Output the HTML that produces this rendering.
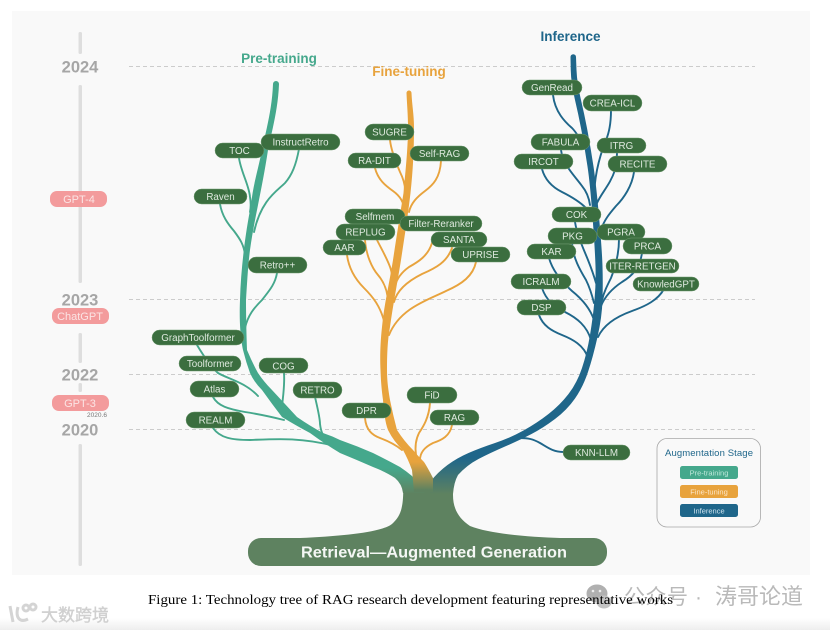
<!DOCTYPE html>
<html><head><meta charset="utf-8"><style>
html,body{margin:0;padding:0;background:#fff;width:830px;height:630px;overflow:hidden}
svg{display:block}
text{font-family:"Liberation Sans","Noto Sans CJK SC",sans-serif}
.p rect{fill:#3b6e3f;stroke:#6f9a70;stroke-width:.5}
.p text{fill:#dfeadf;font-size:9.8px;text-anchor:middle}
.c path{fill:none;stroke-width:1.9;stroke-linecap:round}
.yr{font-size:16.5px;font-weight:bold;fill:#a6a6a6;text-anchor:middle}
.pk{fill:#f39b9c}
.pt{fill:#fbe4e4;font-size:11px;text-anchor:middle}
.d{stroke:#bdbdbd;stroke-width:.8;stroke-dasharray:4 3}
.tl{fill:#dedede}
</style></head><body>
<svg width="830" height="630" viewBox="0 0 830 630" xmlns="http://www.w3.org/2000/svg">
<defs>
<linearGradient id="bot" x1="0" y1="0" x2="0" y2="1"><stop offset="0" stop-color="#fff"/><stop offset="1" stop-color="#eeeeee"/></linearGradient>
<linearGradient id="g1" gradientUnits="userSpaceOnUse" x1="0" y1="468" x2="0" y2="494"><stop offset="0" stop-color="#45a88c"/><stop offset="1" stop-color="#5e8260"/></linearGradient>
<linearGradient id="g2" gradientUnits="userSpaceOnUse" x1="0" y1="462" x2="0" y2="490"><stop offset="0" stop-color="#e8a33d"/><stop offset="1" stop-color="#5e8260"/></linearGradient>
<linearGradient id="g3" gradientUnits="userSpaceOnUse" x1="0" y1="458" x2="0" y2="494"><stop offset="0" stop-color="#1f668a"/><stop offset="1" stop-color="#5e8260"/></linearGradient>
</defs>
<rect width="830" height="630" fill="#fff"/>
<rect y="618" width="830" height="12" fill="url(#bot)"/>
<rect x="12" y="11" width="798" height="564" fill="#f9f9f9"/>

<!-- timeline -->
<rect class="tl" x="78.500" y="32" width="3.500" height="22" rx="1.500"/>
<rect class="tl" x="78.500" y="85" width="3.500" height="198" rx="1.500"/>
<rect class="tl" x="78.500" y="333" width="3.500" height="30" rx="1.500"/>
<rect class="tl" x="78.500" y="383" width="3.500" height="9" rx="1.500"/>
<rect class="tl" x="78.500" y="444" width="3.500" height="122" rx="1.500"/>
<text class="yr" x="80" y="72.500">2024</text>
<text class="yr" x="80" y="305.500">2023</text>
<text class="yr" x="80" y="380.500">2022</text>
<text class="yr" x="80" y="435.500">2020</text>
<rect class="pk" x="50" y="191" width="57" height="16" rx="7"/><text class="pt" x="79" y="203">GPT-4</text>
<rect class="pk" x="52" y="308" width="57" height="16" rx="7"/><text class="pt" x="80" y="320">ChatGPT</text>
<rect class="pk" x="52" y="395" width="57" height="16" rx="7"/><text class="pt" x="80" y="407">GPT-3</text>
<text x="97" y="417" font-size="6.500" fill="#777" text-anchor="middle">2020.6</text>

<!-- dashed -->
<line class="d" x1="129" y1="66.500" x2="755" y2="66.500"/>
<line class="d" x1="129" y1="299.500" x2="755" y2="299.500"/>
<line class="d" x1="129" y1="374.500" x2="755" y2="374.500"/>
<line class="d" x1="129" y1="429.500" x2="755" y2="429.500"/>

<!-- titles -->
<text x="279" y="63" font-size="13.500" font-weight="bold" fill="#45a88c" text-anchor="middle">Pre-training</text>
<text x="409" y="76" font-size="13.500" font-weight="bold" fill="#e8a33d" text-anchor="middle">Fine-tuning</text>
<text x="570.500" y="41" font-size="13.500" font-weight="bold" fill="#1f668a" text-anchor="middle">Inference</text>

<!-- base -->
<path d="M403,480 C404,505 402,515 392,524 C382,532 345,536 300,538 L560,538 C530,537 490,534 470,526 C458,518 453,508 453,495 L453,480Z" fill="#5e8260"/>
<rect x="248" y="538" width="359" height="28" rx="13" fill="#5e8260"/>
<text x="434" y="557.500" font-size="15.500" font-weight="bold" fill="#f4f7f4" text-anchor="middle" textLength="266" lengthAdjust="spacingAndGlyphs">Retrieval—Augmented Generation</text>

<!-- connectors -->
<g class="c">
<path stroke="#45a88c" d="M239,158 C241,172 249,185 250,197 C251,203 251,207 250,212"/>
<path stroke="#45a88c" d="M299,149 C296,165 292,175 285,183 C277,191 261,200 254,232"/>
<path stroke="#45a88c" d="M220,204 C222,216 228,224 234,231 C240,239 244,245 245,255"/>
<path stroke="#45a88c" d="M277,273 C275,285 268,292 262,300 C254,308 248,315 245,328"/>
<path stroke="#45a88c" d="M197,345 C203,355 210,366 218,373 C228,379 245,382 258,396"/>
<path stroke="#45a88c" d="M213,397 C218,406 228,409 245,412 C258,414 268,416 284,420"/>
<path stroke="#45a88c" d="M284,373 C285,388 282,402 282,408 C283,414 284,416 287,418"/>
<path stroke="#45a88c" d="M315,397 C318,410 320,418 320,424 C321,432 323,437 328,440"/>
<path stroke="#45a88c" d="M213,428 C220,438 232,440 250,440 C275,439 300,437 335,446"/>
</g>
<g class="c">
<path stroke="#e8a33d" d="M390,140 C391,150 397,165 400,172 C403,178 405,185 405,190"/>
<path stroke="#e8a33d" d="M375,168 C378,180 386,186 393,191 C400,196 404,202 404,210"/>
<path stroke="#e8a33d" d="M441,161 C440,178 433,185 425,191 C417,197 411,203 409,212"/>
<path stroke="#e8a33d" d="M365,240 C366,255 372,268 378,275 C384,282 388,292 388,303"/>
<path stroke="#e8a33d" d="M377,240 C382,250 389,262 391,270 C393,277 393,285 393,292"/>
<path stroke="#e8a33d" d="M347,255 C349,270 356,280 364,288 C372,296 381,306 385,325"/>
<path stroke="#e8a33d" d="M432,243 C428,256 418,262 409,267 C402,272 397,278 395,286"/>
<path stroke="#e8a33d" d="M452,248 C447,262 436,268 422,274 C408,281 397,290 394,302"/>
<path stroke="#e8a33d" d="M476,262 C473,276 462,284 446,291 C428,300 400,308 389,335"/>
<path stroke="#e8a33d" d="M365,418 C366,430 372,435 380,438 C388,441 396,445 402,450"/>
<path stroke="#e8a33d" d="M430,403 C429,418 423,427 419,433 C415,441 415,448 416,455"/>
<path stroke="#e8a33d" d="M452,425 C450,436 442,440 433,443 C425,447 420,452 420,460"/>
</g>
<g class="c">
<path stroke="#1f668a" d="M553,95 C555,112 565,122 572,128 C576,132 578,136 582,142"/>
<path stroke="#1f668a" d="M611,110 C611,125 609,133 606,140 C600,155 594,175 594,200"/>
<path stroke="#1f668a" d="M617,153 C617,158 616,162 615,170 C610,185 602,192 597,203"/>
<path stroke="#1f668a" d="M634,172 C632,186 624,198 616,206 C610,213 604,220 601,230"/>
<path stroke="#1f668a" d="M561,150 C563,165 574,175 582,186 C587,192 589,198 590,205"/>
<path stroke="#1f668a" d="M542,169 C545,180 552,187 562,192 C572,197 580,202 586,208"/>
<path stroke="#1f668a" d="M575,222 C577,235 584,250 588,260 C592,270 594,276 596,283"/>
<path stroke="#1f668a" d="M572,243 C573,258 580,270 586,280 C590,288 592,295 594,303"/>
<path stroke="#1f668a" d="M549,258 C553,272 563,283 572,291 C582,299 590,308 594,320"/>
<path stroke="#1f668a" d="M542,288 C546,300 555,308 565,312 C577,318 587,326 591,340"/>
<path stroke="#1f668a" d="M539,315 C543,326 552,331 562,335 C572,339 584,345 588,358"/>
<path stroke="#1f668a" d="M619,239 C619,255 615,268 611,278 C607,286 604,292 602,300"/>
<path stroke="#1f668a" d="M642,253 C640,268 632,276 622,282 C613,288 605,296 601,306"/>
<path stroke="#1f668a" d="M664,289 C658,300 646,306 632,311 C618,316 604,324 598,337"/>
<path stroke="#1f668a" d="M563,452 C553,452 547,447 540,443 C533,439 528,438 520,438"/>
</g>

<!-- trunks -->
<path fill="url(#g1)" d="M273,84 C272,110 266,130 262,150 C258,170 253,185 251,205 C246,230 241,265 240,300 C239,325 241,340 243,350 Q246,362 250,373 Q254,382 262,390 Q272,404 282,417 Q295,425 310,433 Q325,444 340,453 Q357,460 373,467 Q386,472 395,478 Q402,484 403,493 L425,493 L412,476 Q406,471 400,467 Q387,460 373,453 Q357,446 340,440 Q332,436 323,433 Q310,426 297,417 Q285,404 272,390 Q264,382 258,373 Q252,362 247,350 C246.500,335 246,318 246,300 C247,285 248,265 250,250 C252,235 255,220 258,205 C261,190 265,170 268,150 C272,130 278,110 279,84 A3,3 0 0 0 273,84Z"/>
<path fill="url(#g3)" d="M570.500,57 L570.750,70 Q571,83 575,100 Q579,117 582,133.500 Q585,150 587.500,166.500 Q590,183 592.500,216.500 Q595,250 595.500,266.500 Q596,283 594.500,300 Q593,317 590,335 Q587,353 582,368 Q577,383 568.500,394 Q560,405 548.500,414 Q537,423 523.500,430.500 Q510,438 495,443 Q480,448 468.500,453 Q457,458 447.500,465 Q438,472 430,482 L430,494 L453,494 Q454,482 458,475 Q467,465 478.500,459 Q490,453 505,446.500 Q520,440 531.500,434 Q543,428 555,419 Q567,410 575,398.500 Q583,387 588,372 Q593,357 597.500,337 Q602,317 602.500,300 Q603,283 602.500,266.500 Q602,250 599,216.500 Q596,183 593.500,166.500 Q591,150 588,133.500 Q585,117 581,100 Q577,83 576.500,70 L576,57 A2.750,2.750 0 0 0 570.500,57Z"/>
<path fill="url(#g2)" d="M406.500,93 C407,105 408,115 408,127 C408,150 405,175 403.500,193 C400,215 396,240 393,260 C389,285 384,305 382,327 C380,345 380,360 380.500,370 C381,385 382,392 383,400 C384,412 385,422 388,430 Q394,442 403,450 Q408,459 412,470 L414,492 L433,492 L433,478 C430,472 426,465 424,462 Q418,456 413,450 Q404,441 397,430 Q393,415 390,400 C388,388 387,380 387,370 C387,355 387.500,340 390,327 C393,305 397,285 401,260 C404,240 408,215 410.500,193 C413,170 414,150 414,127 C414,115 412,105 411.500,93 A2.500,2.500 0 0 0 406.500,93Z"/>

<!-- pills -->
<g class="p">
<rect x="215" y="143" width="49" height="15" rx="7.500"/><text x="239.500" y="154">TOC</text>
<rect x="261" y="134" width="79" height="16" rx="8"/><text x="300.500" y="145.500">InstructRetro</text>
<rect x="194" y="189" width="53" height="15" rx="7.500"/><text x="220.500" y="200">Raven</text>
<rect x="248" y="257" width="59" height="16" rx="8"/><text x="277.500" y="268.500">Retro++</text>
<rect x="152" y="330" width="92" height="15" rx="7.500"/><text x="198" y="341">GraphToolformer</text>
<rect x="179" y="356" width="62" height="15" rx="7.500"/><text x="210" y="367">Toolformer</text>
<rect x="259" y="358" width="49" height="15" rx="7.500"/><text x="283.500" y="369.500">COG</text>
<rect x="190" y="381" width="49" height="16" rx="8"/><text x="214.500" y="392.500">Atlas</text>
<rect x="293" y="382" width="49" height="16" rx="8"/><text x="317.500" y="393.500">RETRO</text>
<rect x="186" y="412" width="59" height="16" rx="8"/><text x="215.500" y="423.500">REALM</text>

<rect x="365" y="124" width="49" height="16" rx="8"/><text x="389.500" y="135.500">SUGRE</text>
<rect x="348" y="153" width="53" height="15" rx="7.500"/><text x="374.500" y="164">RA-DIT</text>
<rect x="410" y="146" width="59" height="15" rx="7.500"/><text x="439.500" y="157">Self-RAG</text>
<rect x="345" y="209" width="60" height="15" rx="7.500"/><text x="375" y="220">Selfmem</text>
<rect x="336" y="224" width="59" height="16" rx="8"/><text x="365.500" y="235.500">REPLUG</text>
<rect x="400" y="216" width="82" height="15" rx="7.500"/><text x="441" y="227">Filter-Reranker</text>
<rect x="431" y="232" width="56" height="15" rx="7.500"/><text x="459" y="243">SANTA</text>
<rect x="323" y="240" width="43" height="15" rx="7.500"/><text x="344.500" y="251">AAR</text>
<rect x="451" y="247" width="59" height="15" rx="7.500"/><text x="480.500" y="258">UPRISE</text>
<rect x="342" y="403" width="49" height="15" rx="7.500"/><text x="366.500" y="414">DPR</text>
<rect x="407" y="387" width="50" height="16" rx="8"/><text x="432" y="398.500">FiD</text>
<rect x="430" y="410" width="49" height="15" rx="7.500"/><text x="454.500" y="421">RAG</text>

<rect x="522" y="80" width="60" height="15" rx="7.500"/><text x="552" y="91">GenRead</text>
<rect x="583" y="95" width="59" height="16" rx="8"/><text x="612.500" y="106.500">CREA-ICL</text>
<rect x="597" y="138" width="49" height="15" rx="7.500"/><text x="621.500" y="149">ITRG</text>
<rect x="531" y="134" width="59" height="16" rx="8"/><text x="560.500" y="145.500">FABULA</text>
<rect x="514" y="154" width="59" height="15" rx="7.500"/><text x="543.500" y="165">IRCOT</text>
<rect x="608" y="156" width="59" height="16" rx="8"/><text x="637.500" y="167.500">RECITE</text>
<rect x="552" y="207" width="49" height="15" rx="7.500"/><text x="576.500" y="218">COK</text>
<rect x="548" y="228" width="49" height="16" rx="8"/><text x="572.500" y="239.500">PKG</text>
<rect x="597" y="224" width="48" height="16" rx="8"/><text x="621" y="235.500">PGRA</text>
<rect x="623" y="238" width="49" height="16" rx="8"/><text x="647.500" y="249.500">PRCA</text>
<rect x="527" y="244" width="49" height="15" rx="7.500"/><text x="551.500" y="255">KAR</text>
<rect x="606" y="259" width="73" height="14" rx="7"/><text x="642.500" y="269.500">ITER-RETGEN</text>
<rect x="511" y="274" width="60" height="15" rx="7.500"/><text x="541" y="285">ICRALM</text>
<rect x="633" y="277" width="66" height="14" rx="7"/><text x="666" y="287.500">KnowledGPT</text>
<rect x="517" y="300" width="49" height="15" rx="7.500"/><text x="541.500" y="311">DSP</text>
<rect x="563" y="445" width="67" height="15" rx="7.500"/><text x="596.500" y="456">KNN-LLM</text>
</g>

<!-- legend -->
<rect x="657" y="438.500" width="103.500" height="88.500" rx="10" fill="none" stroke="#a8a8a8" stroke-width=".8"/>
<text x="709" y="456" font-size="9.500" fill="#1f668a" text-anchor="middle" textLength="88">Augmentation Stage</text>
<rect x="680" y="466" width="58" height="13" rx="2.500" fill="#45a88c"/><text x="709" y="475.500" font-size="7.500" fill="#bfe8da" text-anchor="middle">Pre-training</text>
<rect x="680" y="485" width="58" height="13" rx="2.500" fill="#e8a33d"/><text x="709" y="494.500" font-size="7.500" fill="#fbe6c8" text-anchor="middle">Fine-tuning</text>
<rect x="680" y="504" width="58" height="13" rx="2.500" fill="#1f668a"/><text x="709" y="513.500" font-size="7.500" fill="#cfe4ef" text-anchor="middle">Inference</text>

<!-- watermark -->
<g><ellipse cx="597" cy="593.500" rx="10.500" ry="9" fill="#b0b0b0"/><ellipse cx="604" cy="602" rx="7.500" ry="6.500" fill="#c4c4c4"/><circle cx="593" cy="591" r="1.300" fill="#eee"/><circle cx="600" cy="591" r="1.300" fill="#eee"/></g>
<text x="624" y="604" font-size="21" fill="#b9b9b9" textLength="64">公众号</text>
<text x="695" y="604" font-size="21" fill="#b9b9b9">·</text>
<text x="715" y="604" font-size="22" fill="#b9b9b9" textLength="88">涛哥论道</text>
<g fill="none" stroke="#d4d4d4" stroke-width="3"><path d="M10,606 L13,622"/><path d="M18,607 C15,618 20,623 28,619"/><circle cx="26" cy="608" r="3"/><circle cx="33" cy="607" r="3"/></g>
<text x="41" y="621" font-size="17" fill="#d0d0d0" stroke="#d0d0d0" stroke-width=".4">大数跨境</text>

<!-- caption -->
<text x="148" y="604" font-size="14" fill="#000" textLength="525" lengthAdjust="spacingAndGlyphs" style="font-family:'Liberation Serif',serif">Figure 1: Technology tree of RAG research development featuring representative works</text>
</svg>
</body></html>
